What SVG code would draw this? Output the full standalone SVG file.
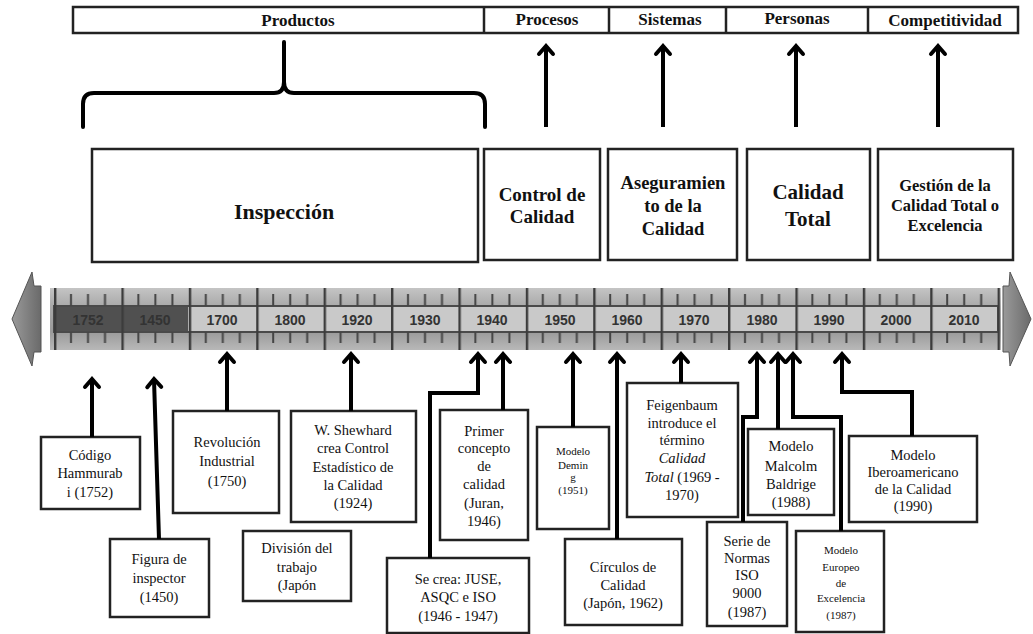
<svg xmlns="http://www.w3.org/2000/svg" width="1033" height="634" viewBox="0 0 1033 634">
<style>
.t{font-family:"Liberation Serif","Times New Roman",serif;fill:#111;text-anchor:middle}
.b{font-weight:bold}
.top{font-size:17px;font-weight:bold}
.box{fill:#fff;stroke:#222;stroke-width:2.5}
.tb{fill:#fff;stroke:#222;stroke-width:2.5}
.s15{font-size:14.5px}
.s11{font-size:11px}
.yr{font-family:"Liberation Sans",Arial,sans-serif;font-weight:bold;font-size:14px;fill:#333;text-anchor:middle}
.yrd{fill:#333}
.con{fill:none;stroke:#000;stroke-width:4;stroke-linejoin:miter;marker-end:url(#ah)}
.brace{fill:none;stroke:#000;stroke-width:4;stroke-linecap:round}
</style>
<defs>
<marker id="ah" markerUnits="userSpaceOnUse" markerWidth="30" markerHeight="30" viewBox="-15 -15 30 30" refX="0" refY="0" orient="auto" overflow="visible">
<path d="M-8,-7 L0,0 L-8,7" fill="none" stroke="#000" stroke-width="4" stroke-linecap="round" stroke-linejoin="miter"/>
</marker>
<linearGradient id="barg" x1="0" y1="0" x2="0" y2="1">
<stop offset="0" stop-color="#c4c4c4"/>
<stop offset="0.3" stop-color="#a9a9a9"/>
<stop offset="0.7" stop-color="#9a9a9a"/>
<stop offset="1" stop-color="#b8b8b8"/>
</linearGradient>
<linearGradient id="arrg" x1="0" y1="0" x2="1" y2="0">
<stop offset="0" stop-color="#9a9a9a"/>
<stop offset="1" stop-color="#6a6a6a"/>
</linearGradient>
<pattern id="ticks" patternUnits="userSpaceOnUse" x="54" y="288" width="67.4" height="62">
<rect x="0" y="0" width="2.4" height="62" fill="#3c3c3c"/>
<rect x="16" y="6" width="2" height="12" fill="#444"/>
<rect x="33" y="6" width="2" height="12" fill="#444"/>
<rect x="50" y="6" width="2" height="12" fill="#444"/>
<rect x="16" y="44" width="2" height="11" fill="#444"/>
<rect x="33" y="44" width="2" height="11" fill="#444"/>
<rect x="50" y="44" width="2" height="11" fill="#444"/>
</pattern>
</defs>

<rect width="1033" height="634" fill="#fff"/>

<!-- top category bar -->
<g id="categorias">
<rect class="tb" x="73" y="7" width="945" height="26"/>
<line x1="484" y1="7" x2="484" y2="33" stroke="#222" stroke-width="2.5"/>
<line x1="609" y1="7" x2="609" y2="33" stroke="#222" stroke-width="2.5"/>
<line x1="726" y1="7" x2="726" y2="33" stroke="#222" stroke-width="2.5"/>
<line x1="868" y1="7" x2="868" y2="33" stroke="#222" stroke-width="2.5"/>
</g>
<g id="cat-productos"><text class="t top" x="298" y="26">Productos</text></g>
<g id="cat-procesos"><text class="t top" x="547" y="25">Procesos</text></g>
<g id="cat-sistemas"><text class="t top" x="670" y="25">Sistemas</text></g>
<g id="cat-personas"><text class="t top" x="797" y="24">Personas</text></g>
<g id="cat-competitividad"><text class="t top" x="945" y="26">Competitividad</text></g>

<!-- era boxes -->
<g id="inspeccion"><rect class="box" x="92" y="149" width="386" height="113"/>
<text class="t b" style="font-size:22px" x="284" y="219">Inspección</text></g>
<g id="control"><rect class="box" x="484" y="149" width="116" height="111"/>
<text class="t b" style="font-size:19px" x="542" y="201">Control de</text>
<text class="t b" style="font-size:19px" x="542" y="223">Calidad</text></g>
<g id="aseguramiento"><rect class="box" x="608" y="149" width="129" height="111"/>
<text class="t b" style="font-size:18.5px" x="673" y="189">Aseguramien</text>
<text class="t b" style="font-size:18.5px" x="673" y="212">to de la</text>
<text class="t b" style="font-size:18.5px" x="673" y="235">Calidad</text></g>
<g id="calidadtotal"><rect class="box" x="747" y="149" width="123" height="111"/>
<text class="t b" style="font-size:21px" x="808" y="199">Calidad</text>
<text class="t b" style="font-size:21px" x="808" y="226">Total</text></g>
<g id="gestion"><rect class="box" x="878" y="149" width="135" height="111"/>
<text class="t b" style="font-size:16.5px" x="945" y="191">Gestión de la</text>
<text class="t b" style="font-size:16.5px" x="945" y="211">Calidad Total o</text>
<text class="t b" style="font-size:16.5px" x="945" y="231">Excelencia</text></g>

<!-- timeline -->
<g id="timeline">
<polygon points="12,319 32,272 34,286 41,286 41,352 34,352 32,366" fill="url(#arrg)" stroke="#555" stroke-width="1"/>
<polygon points="1031,319 1010,272 1009,286 1003,286 1003,352 1009,352 1010,366" fill="url(#arrg)" stroke="#555" stroke-width="1"/>
<rect x="50" y="288" width="951" height="62" fill="url(#barg)"/>
<rect x="54" y="306" width="944" height="26" fill="#c9c9c9" stroke="#4a4a4a" stroke-width="2"/>
<rect x="55" y="307" width="133" height="24" fill="#505050"/>
<rect x="54" y="288" width="946" height="62" fill="url(#ticks)"/>
<text class="yr yrd" x="88" y="325">1752</text>
<text class="yr yrd" x="155" y="325">1450</text>
<text class="yr" x="222" y="325">1700</text>
<text class="yr" x="290" y="325">1800</text>
<text class="yr" x="357" y="325">1920</text>
<text class="yr" x="425" y="325">1930</text>
<text class="yr" x="492" y="325">1940</text>
<text class="yr" x="560" y="325">1950</text>
<text class="yr" x="627" y="325">1960</text>
<text class="yr" x="694" y="325">1970</text>
<text class="yr" x="762" y="325">1980</text>
<text class="yr" x="829" y="325">1990</text>
<text class="yr" x="896" y="325">2000</text>
<text class="yr" x="964" y="325">2010</text>
</g>

<!-- event boxes -->
<g id="hammurabi"><rect class="box" x="41" y="437" width="99" height="72"/>
<text class="t s15" x="90" y="460">Código</text>
<text class="t s15" x="90" y="478">Hammurab</text>
<text class="t s15" x="90" y="497">i (1752)</text></g>
<g id="inspector"><rect class="box" x="110" y="539" width="99" height="78"/>
<text class="t s15" x="159" y="564">Figura de</text>
<text class="t s15" x="159" y="583">inspector</text>
<text class="t s15" x="159" y="602">(1450)</text></g>
<g id="revolucion"><rect class="box" x="173" y="411" width="106" height="102"/>
<text class="t s15" x="227" y="447">Revolución</text>
<text class="t s15" x="227" y="466">Industrial</text>
<text class="t s15" x="227" y="486">(1750)</text></g>
<g id="shewhard"><rect class="box" x="291" y="411" width="125" height="111"/>
<text class="t s15" x="353" y="435">W. Shewhard</text>
<text class="t s15" x="353" y="453">crea Control</text>
<text class="t s15" x="353" y="472">Estadístico de</text>
<text class="t s15" x="353" y="490">la Calidad</text>
<text class="t s15" x="353" y="508">(1924)</text></g>
<g id="division"><rect class="box" x="243" y="531" width="108" height="70"/>
<text class="t s15" x="297" y="553">División del</text>
<text class="t s15" x="297" y="572">trabajo</text>
<text class="t s15" x="297" y="590">(Japón</text></g>
<g id="juse"><rect class="box" x="387" y="558" width="142" height="75"/>
<text class="t s15" x="458" y="584">Se crea: JUSE,</text>
<text class="t s15" x="458" y="602">ASQC e ISO</text>
<text class="t s15" x="458" y="621">(1946 - 1947)</text></g>
<g id="juran"><rect class="box" x="440" y="410" width="88" height="130"/>
<text class="t s15" x="484" y="436">Primer</text>
<text class="t s15" x="484" y="453">concepto</text>
<text class="t s15" x="484" y="471">de</text>
<text class="t s15" x="484" y="489">calidad</text>
<text class="t s15" x="484" y="508">(Juran,</text>
<text class="t s15" x="484" y="526">1946)</text></g>
<g id="deming"><rect class="box" x="537" y="427" width="72" height="102"/>
<text class="t s11" x="573" y="455">Modelo</text>
<text class="t s11" x="573" y="469">Demin</text>
<text class="t s11" x="573" y="481">g</text>
<text class="t s11" x="573" y="494">(1951)</text></g>
<g id="circulos"><rect class="box" x="565" y="539" width="117" height="86"/>
<text class="t s15" x="623" y="572">Círculos de</text>
<text class="t s15" x="623" y="590">Calidad</text>
<text class="t s15" x="623" y="608">(Japón, 1962)</text></g>
<g id="feigenbaum"><rect class="box" x="627" y="383" width="111" height="134"/>
<text class="t s15" x="682" y="410">Feigenbaum</text>
<text class="t s15" x="682" y="428">introduce el</text>
<text class="t s15" x="682" y="445">término</text>
<text class="t s15" x="682" y="463" font-style="italic">Calidad</text>
<text class="t s15" x="682" y="482"><tspan font-style="italic">Total</tspan> (1969 -</text>
<text class="t s15" x="682" y="500">1970)</text></g>
<g id="iso9000"><rect class="box" x="707" y="522" width="80" height="104"/>
<text class="t s15" x="747" y="546">Serie de</text>
<text class="t s15" x="747" y="563">Normas</text>
<text class="t s15" x="747" y="580">ISO</text>
<text class="t s15" x="747" y="598">9000</text>
<text class="t s15" x="747" y="617">(1987)</text></g>
<g id="malcolm"><rect class="box" x="748" y="429" width="86" height="86"/>
<text class="t s15" x="791" y="451">Modelo</text>
<text class="t s15" x="791" y="471">Malcolm</text>
<text class="t s15" x="791" y="489">Baldrige</text>
<text class="t s15" x="791" y="507">(1988)</text></g>
<g id="europeo"><rect class="box" x="796" y="531" width="88" height="101"/>
<text class="t s11" x="841" y="554">Modelo</text>
<text class="t s11" x="841" y="571">Europeo</text>
<text class="t s11" x="841" y="587">de</text>
<text class="t s11" x="841" y="602">Excelencia</text>
<text class="t s11" x="841" y="619">(1987)</text></g>
<g id="iberoamericano"><rect class="box" x="849" y="436" width="128" height="86"/>
<text class="t s15" x="913" y="460">Modelo</text>
<text class="t s15" x="913" y="477">Iberoamericano</text>
<text class="t s15" x="913" y="494">de la Calidad</text>
<text class="t s15" x="913" y="511">(1990)</text></g>

<!-- connectors -->
<g id="connectors">
<path class="brace" d="M83,127 L83,104 Q83,93 94,93 L274,93 Q284,93 284,82 L284,42 M284,82 Q284,93 294,93 L474,93 Q485,93 485,104 L485,127"/>
<path class="con" d="M546,127 L546,46"/>
<path class="con" d="M663,127 L663,46"/>
<path class="con" d="M796,127 L796,46"/>
<path class="con" d="M938,127 L938,46"/>
<path class="con" d="M92,437 L92,379"/>
<path class="con" d="M159,539 L154,379"/>
<path class="con" d="M227,411 L227,354"/>
<path class="con" d="M351,411 L351,354"/>
<path class="con" d="M430,558 L430,393 L478,393 L478,354"/>
<path class="con" d="M503,410 L503,354"/>
<path class="con" d="M573,427 L573,354"/>
<path class="con" d="M617,539 L617,354"/>
<path class="con" d="M681,383 L681,354"/>
<path class="con" d="M743,522 L743,417 L757,417 L757,354"/>
<path class="con" d="M778,429 L778,354"/>
<path class="con" d="M841,531 L841,417 L793,417 L793,354"/>
<path class="con" d="M912,436 L912,392 L842,392 L842,354"/>
</g>
</svg>
